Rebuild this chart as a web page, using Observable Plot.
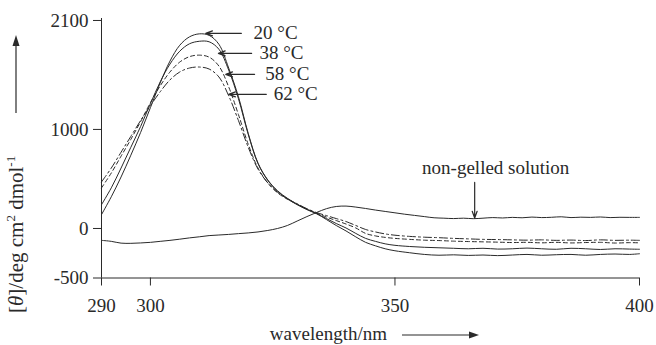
<!DOCTYPE html>
<html><head><meta charset="utf-8">
<script src="https://cdn.jsdelivr.net/npm/d3@7"></script>
<script src="https://cdn.jsdelivr.net/npm/@observablehq/plot@0.6"></script>
<style>
body{margin:0;background:#fff;}
#chart svg{display:block;}
</style></head><body><div id="chart"></div>
<script>
// wavelength grid (nm) for the gelled spectra
const lambdaGel = [290,292,294,296,298,300,302,304,306,308,310,312,314,316,318,320,322,324,326,328,330,332,334,336,338,340,342,344,346,348,350,353,356,359,362,365,368,371,374,377,380,383,386,389,392,395,398,400];
const t20 = [140,320,520,740,970,1220,1470,1690,1850,1935,1965,1950,1860,1620,1330,960,660,490,380,305,245,195,150,90,30,-25,-85,-140,-175,-205,-225,-245,-262,-270,-266,-272,-268,-274,-268,-262,-270,-265,-262,-270,-262,-258,-262,-255];
const t38 = [240,410,610,820,1030,1260,1480,1660,1790,1865,1890,1885,1810,1600,1310,950,655,485,375,300,240,190,148,100,50,5,-50,-100,-130,-155,-170,-182,-190,-195,-200,-205,-200,-208,-205,-198,-205,-210,-200,-205,-212,-205,-208,-210];
const t58 = [410,560,730,900,1080,1270,1440,1580,1680,1735,1750,1730,1640,1430,1150,850,610,460,360,295,245,195,155,115,80,45,5,-50,-75,-90,-100,-110,-118,-122,-128,-132,-135,-138,-142,-140,-145,-140,-146,-142,-140,-147,-143,-145];
const t62 = [470,610,770,930,1090,1240,1380,1500,1580,1620,1630,1610,1530,1340,1090,820,600,460,365,300,250,200,160,130,100,70,30,-10,-35,-55,-68,-80,-88,-93,-100,-105,-110,-112,-115,-118,-115,-120,-117,-122,-115,-120,-118,-120];
// non-gelled solution
const lambdaSol = [290,292,294,296,298,300,302,304,306,308,310,312,314,316,318,320,322,324,326,328,330,332,334,336,338,340,342,344,346,348,350,352,354,356,358,360,362,364,366,368,370,372,374,376,378,380,382,384,386,388,390,392,394,396,398,400];
const nonGelled = [-120,-130,-148,-150,-146,-140,-130,-120,-108,-95,-84,-72,-66,-60,-52,-45,-35,-20,0,30,75,120,162,200,222,226,216,202,186,172,158,144,132,120,108,104,100,104,99,104,110,106,112,108,115,110,113,118,110,114,112,116,110,113,112,112];

const seriesNames = ["20 °C","38 °C","58 °C","62 °C"];
const seriesValues = [t20,t38,t58,t62];
const seriesDash = [null,null,"4,3","8,3,2,3"];
const xTicks = [290,300,350,400];
const yTicks = [-500,0,1000,2100];

// annotation anchors in data units
const tempLabelX = [321.1,322.3,323.5,325.2];
const tempLabelY = [1970,1768,1556,1354];
const tempArrowFrom = [318.6,320.7,321.3,323.7];
const tempArrowTo = [311.3,313.9,315.4,316.0];
const solLabel = {text:"non-gelled solution", x:370.6, y:616, arrowX:366.3, arrowY1:465, arrowY2:105};

const rows = [];
seriesNames.forEach((name,i)=>lambdaGel.forEach((l,j)=>rows.push({series:name,lambda:l,value:seriesValues[i][j]})));
const solRows = lambdaSol.map((l,j)=>({lambda:l,value:nonGelled[j]}));
const ann = seriesNames.map((n,i)=>({text:n,x:tempLabelX[i],y:tempLabelY[i],x1:tempArrowFrom[i],x2:tempArrowTo[i]}));

const ink = "#2a2a2a";
const serif = "'Liberation Serif', 'Times New Roman', serif";
const lineMarks = seriesNames.map((name,i)=>Plot.line(rows.filter(d=>d.series===name),{
  x:"lambda", y:"value", stroke:ink, strokeWidth:1, strokeDasharray:seriesDash[i], curve:"catmull-rom"
}));

const plot = Plot.plot({
  width:656, height:345,
  marginLeft:101, marginRight:17, marginTop:18, marginBottom:67.5,
  style:{fontFamily:serif, fontSize:"19px", color:ink, background:"#fff"},
  x:{domain:[290,400]},
  y:{domain:[-500,2120]},
  marks:[
    Plot.axisX({ticks:xTicks, tickSize:8, tickPadding:12, label:null, tickFormat:d=>String(d), fontFamily:serif, fontSize:19, fill:ink, stroke:ink}),
    Plot.axisY({ticks:yTicks, tickSize:8, tickPadding:5, label:null, tickFormat:d=>String(d), fontFamily:serif, fontSize:19, fill:ink, stroke:ink}),
    Plot.ruleX([290],{stroke:ink, strokeWidth:1}),
    Plot.ruleY([-500],{stroke:ink, strokeWidth:1}),
    ...lineMarks,
    Plot.line(solRows,{x:"lambda",y:"value",stroke:ink,strokeWidth:1,curve:"catmull-rom"}),
    Plot.arrow(ann,{x1:"x1",x2:"x2",y1:"y",y2:"y",stroke:ink,strokeWidth:1.2,headLength:9,headAngle:40}),
    Plot.text(ann,{x:"x",y:"y",text:"text",textAnchor:"start",fill:ink,fontSize:19,fontFamily:serif}),
    Plot.text([solLabel],{x:"x",y:"y",text:"text",textAnchor:"middle",fill:ink,fontSize:19,fontFamily:serif}),
    Plot.arrow([solLabel],{x1:"arrowX",x2:"arrowX",y1:"arrowY1",y2:"arrowY2",stroke:ink,strokeWidth:1.2,headLength:9,headAngle:40})
  ]
});
document.getElementById("chart").appendChild(plot);

// axis titles with italic theta and superscripts
const svg = d3.select(plot);
const yl = svg.append("text")
  .attr("transform","translate(23,313) rotate(-90)")
  .attr("text-anchor","start")
  .attr("font-family",serif).attr("font-size",21).attr("fill",ink);
yl.append("tspan").text("[");
yl.append("tspan").attr("font-style","italic").text("θ");
yl.append("tspan").text("]/deg cm");
yl.append("tspan").attr("font-size",13).attr("dy",-8).text("2");
yl.append("tspan").attr("dy",8).text(" dmol");
yl.append("tspan").attr("font-size",13).attr("dy",-8).text("-1");
svg.append("line").attr("x1",16).attr("x2",16).attr("y1",113).attr("y2",40).attr("stroke",ink).attr("stroke-width",1.2);
svg.append("path").attr("d","M16,35 L12.5,46 L19.5,46 Z").attr("fill",ink);

svg.append("text").attr("x",387).attr("y",340).attr("text-anchor","end")
  .attr("font-family",serif).attr("font-size",19).attr("fill",ink).text("wavelength/nm");
svg.append("line").attr("x1",402).attr("x2",472).attr("y1",335).attr("y2",335).attr("stroke",ink).attr("stroke-width",1.2);
svg.append("path").attr("d","M479,335 L469,331.5 L469,338.5 Z").attr("fill",ink);
</script></body></html>
